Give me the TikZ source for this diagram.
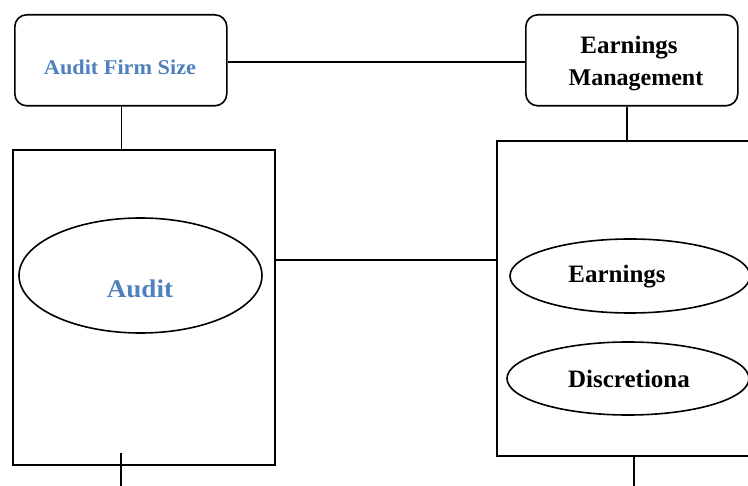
\documentclass[tikz,border=0pt]{standalone}
\usepackage{fontspec}
\setmainfont{Liberation Serif}
\newfontfamily\camfont[FakeStretch=1.06]{Liberation Serif}
\usetikzlibrary{shapes.geometric}
\definecolor{wordblue}{HTML}{4F81BD}
\tikzset{
  conn/.style={draw=black, line width=1.6pt},
  rbox/.style={draw=black, line width=1.6pt, rounded corners=12pt, inner sep=0pt, anchor=north west},
  sbox/.style={draw=black, line width=1.6pt, inner sep=0pt, anchor=north west},
  oval/.style={draw=black, line width=1.6pt, ellipse, inner sep=0pt},
  bluetxt/.style={text=wordblue, font=\camfont\bfseries\fontsize{21}{25}\selectfont, anchor=base, inner sep=0pt},
  blacktxt/.style={text=black, font=\bfseries\fontsize{25}{30}\selectfont, anchor=base, inner sep=0pt}
}
\begin{document}
\begin{tikzpicture}[x=1pt,y=-1pt]
\useasboundingbox (0,0) rectangle (748,486);
\clip (0,0) rectangle (748,486);
% boxes
\node[rbox, minimum width=212pt, minimum height=91pt] (afs) at (14,14) {};
\node[rbox, minimum width=212pt, minimum height=91pt] (em) at (525,14) {};
\node[sbox, minimum width=262pt, minimum height=315pt] (lrect) at (12,149) {};
\node[sbox, minimum width=270pt, minimum height=315pt] (rrect) at (496,140) {};
% ellipses
\node[oval, minimum width=243pt, minimum height=115pt] (audell) at (140.5,275.5) {};
\node[oval, minimum width=240pt, minimum height=74pt] (earnell) at (630,276) {};
\node[oval, minimum width=242pt, minimum height=73pt] (discell) at (628,378.5) {};
% texts
\node[bluetxt] (afstxt) at (120,75) {Audit Firm Size};
\node[bluetxt, font=\camfont\bfseries\fontsize{25.5}{30}\selectfont] (audtxt) at (140,298) {Audit};
\node[blacktxt] (emtxt1) at (629,54) {Earnings};
\node[blacktxt, font=\bfseries\fontsize{24}{30}\selectfont] (emtxt2) at (636,86) {Management};
\node[blacktxt] (earntxt) at (617,283) {Earnings};
\node[blacktxt] (disctxt) at (629,388) {Discretiona};
% connector helpers
\coordinate (mid) at (0,260);
\coordinate (topy) at (0,62);
\coordinate (emx) at (627,0);
\coordinate (afsx) at (121.5,0);
\coordinate (lbot) at (121,486);
\coordinate (lbtop) at (121,453);
\coordinate (rbot) at (634,486);
% connectors
\draw[conn] (afs.east |- topy) -- (em.west |- topy);
\draw[conn] (afs.south -| afsx) -- (lrect.north -| afsx);
\draw[conn] (em.south -| emx) -- (rrect.north -| emx);
\draw[conn] (lrect.east |- mid) -- (rrect.west |- mid);
\draw[conn] (lbtop) -- (lbot);
\draw[conn] (rrect.south -| rbot) -- (rbot);
\end{tikzpicture}
\end{document}
